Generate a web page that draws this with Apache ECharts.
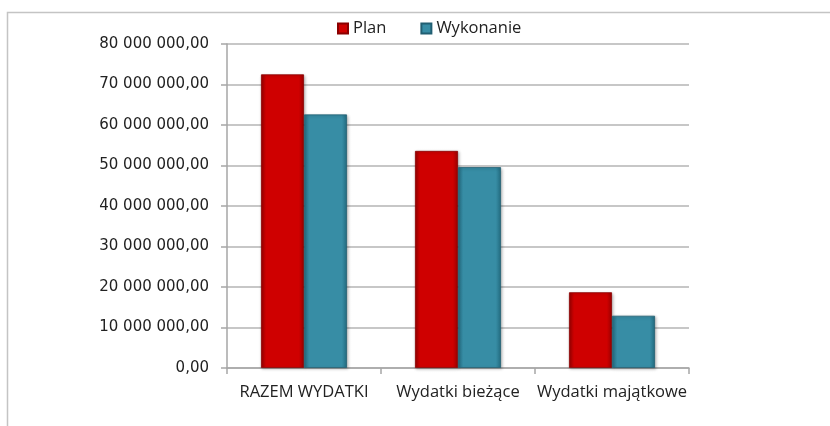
<!DOCTYPE html>
<html>
<head>
<meta charset="utf-8">
<script src="https://cdn.jsdelivr.net/npm/echarts@6/dist/echarts.min.js"></script>
<style>
  html, body { margin: 0; padding: 0; background: #fff; }
  #chart { width: 830px; height: 426px; }
</style>
</head>
<body>
<div id="chart"></div>
<script>
(function () {
  'use strict';

  const categories = ['RAZEM WYDATKI', 'Wydatki bieżące', 'Wydatki majątkowe'];
  const planValues = [72500000, 53600000, 18700000];
  const wykonanieValues = [62600000, 49600000, 12900000];
  const seriesNames = ['Plan', 'Wykonanie'];

  const labelFont = '"Open Sans", "Liberation Sans", sans-serif';
  const numberFont = '"DejaVu Sans", sans-serif';

  function formatAmount(value) {
    const parts = Number(value).toFixed(2).split('.');
    const whole = parts[0].replace(/\B(?=(\d{3})+(?!\d))/g, ' ');
    return `${whole},${parts[1]}`;
  }

  function barGradient(edge, mid) {
    return new echarts.graphic.LinearGradient(0, 0, 1, 0, [
      { offset: 0, color: edge },
      { offset: 0.12, color: mid },
      { offset: 0.88, color: mid },
      { offset: 1, color: edge },
    ]);
  }

  const chart = echarts.init(document.getElementById('chart'), null, { renderer: 'canvas' });

  chart.setOption({
    backgroundColor: '#ffffff',
    animation: false,
    textStyle: { fontFamily: labelFont },
    graphic: [
      {
        type: 'rect',
        left: 5,
        top: 10,
        shape: { width: 900, height: 500 },
        style: { fill: 'none', stroke: '#c4c4c4', lineWidth: 1.5 },
        silent: true,
      },
    ],
    legend: {
      top: 15,
      left: 332,
      itemWidth: 10,
      itemHeight: 10,
      itemGap: 34,
      icon: 'rect',
      textStyle: { color: '#222', fontSize: 16.5, fontFamily: labelFont },
      data: seriesNames,
    },
    grid: { left: 227, right: 141, top: 44, bottom: 58 },
    xAxis: {
      type: 'category',
      data: categories,
      axisLine: { lineStyle: { color: '#a6a6a6', width: 1.5 } },
      axisTick: { show: true, length: 6, lineStyle: { color: '#a6a6a6', width: 1.5 } },
      axisLabel: { color: '#222', fontSize: 16.5, margin: 16, interval: 0, fontFamily: labelFont },
    },
    yAxis: {
      type: 'value',
      min: 0,
      max: 80000000,
      interval: 10000000,
      axisLine: { show: true, lineStyle: { color: '#a6a6a6', width: 1.5 } },
      axisTick: { show: true, length: 6, lineStyle: { color: '#a6a6a6', width: 1.5 } },
      splitLine: { lineStyle: { color: '#b4b4b4', width: 1.5 } },
      axisLabel: {
        color: '#222',
        fontSize: 15,
        margin: 18,
        fontFamily: numberFont,
        formatter: (value) => formatAmount(value),
      },
    },
    series: [
      {
        name: seriesNames[0],
        type: 'bar',
        data: planValues,
        barWidth: 43,
        barGap: '0%',
        itemStyle: {
          color: barGradient('#9a0000', '#cf0000'),
          borderColor: '#8a0000',
          borderWidth: 0.8,
          shadowColor: 'rgba(0, 0, 0, 0.25)',
          shadowBlur: 3,
          shadowOffsetX: 1,
          shadowOffsetY: 1,
        },
      },
      {
        name: seriesNames[1],
        type: 'bar',
        data: wykonanieValues,
        barWidth: 43,
        barGap: '0%',
        itemStyle: {
          color: barGradient('#236b80', '#378da5'),
          borderColor: '#215f72',
          borderWidth: 0.8,
          shadowColor: 'rgba(0, 0, 0, 0.25)',
          shadowBlur: 3,
          shadowOffsetX: 1,
          shadowOffsetY: 1,
        },
      },
    ],
  });
})();
</script>
</body>
</html>
